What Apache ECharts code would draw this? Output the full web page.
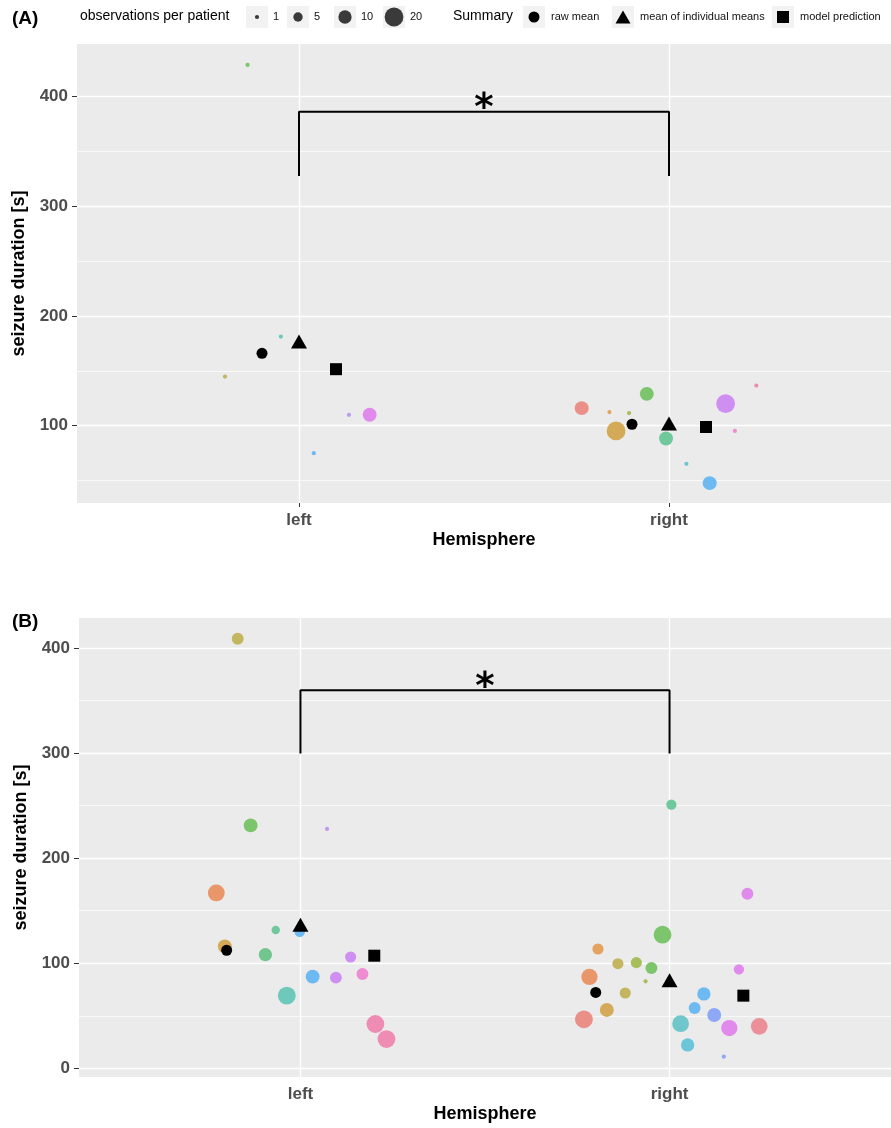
<!DOCTYPE html>
<html><head><meta charset="utf-8">
<script src="https://cdn.jsdelivr.net/npm/echarts@6/dist/echarts.min.js"></script>
<style>html,body{margin:0;padding:0;background:#fff}#c{width:891px;height:1128px}</style>
</head><body><div id="c"></div>
<script>
// ---------------- DATA ----------------
const hemispheres = ['left', 'right'];

// Panel A: one point per patient (jittered x position, mean duration, observations, patient colour key)
const aJitterX  = [0.861, 0.951, 0.800, 1.135, 1.191, 1.040,
                   1.764, 1.839, 1.892, 1.940, 1.857, 1.992, 2.153, 2.236, 2.178, 2.047, 2.110];
const aDuration = [428.9, 181.2, 144.8, 109.9, 110.0, 74.9,
                   116.0, 112.4, 111.5, 129.0, 95.2, 88.3, 120.1, 136.6, 95.2, 65.2, 47.6];
const aObs      = [1, 1, 1, 1, 11, 1,
                   11, 1, 1, 11, 20, 11, 20, 1, 1, 1, 11];
const aPatient  = ['green', 'teal', 'olive', 'lavender', 'magenta', 'blue',
                   'salmon', 'orangeL', 'olivegreen', 'green', 'gold', 'greenteal', 'violet', 'pinkred', 'pink', 'cyan', 'blue'];
const aRawMean   = [166.0, 101.3];
const aIndivMean = [176.7, 102.0];
const aModel     = [151.5, 98.8];
const aBracket   = [327.7, 386.3];
const aYTicks    = [100, 200, 300, 400];

// Panel B
const bJitterX  = [0.830, 0.865, 1.072, 0.772, 0.933, 0.998, 0.795, 0.905, 1.136, 1.033, 1.096, 1.168, 0.963, 1.203, 1.233,
                   2.005, 2.211, 1.981, 1.806, 1.860, 1.910, 1.951, 1.935, 1.783, 1.880, 1.830, 1.768, 2.188, 2.093, 2.068, 2.121, 2.030, 2.162, 2.243, 2.049, 2.147];
const bDuration = [408.8, 231.2, 227.8, 166.9, 131.7, 129.8, 116.1, 108.2, 106.0, 87.3, 86.3, 89.8, 69.2, 42.2, 27.9,
                   250.9, 166.2, 127.2, 113.6, 99.6, 100.6, 95.5, 82.8, 87.0, 71.7, 55.6, 46.7, 94.2, 70.8, 57.5, 50.8, 42.5, 38.4, 40.0, 22.3, 11.1];
const bObs      = [8, 11, 1, 16, 4, 6, 11, 10, 7, 11, 8, 8, 18, 18, 18,
                   6, 8, 18, 7, 7, 7, 8, 1, 15, 7, 11, 18, 6, 10, 8, 11, 16, 15, 16, 10, 1];
const bPatient  = ['olive', 'green', 'lavender', 'orange', 'greenteal', 'blue', 'gold', 'greenteal2', 'violet', 'blue', 'violet', 'pink', 'teal', 'pinkred', 'pinkred',
                   'greenteal', 'magenta', 'green', 'orangeL', 'olive', 'olivegreen', 'green', 'olivegreen', 'orange', 'olive', 'gold', 'salmon', 'magenta', 'blue', 'blue', 'periwinkle', 'cyanteal', 'magenta', 'salmonpink', 'cyan', 'periwinkle'];
const bRawMean   = [112.4, 72.3];
const bIndivMean = [136.7, 83.8];
const bModel     = [107.2, 69.2];
const bBracket   = [299.5, 359.7];
const bYTicks    = [0, 100, 200, 300, 400];

const sizeLegendObs = [1, 5, 10, 20];
const summaryNames  = ['raw mean', 'mean of individual means', 'model prediction'];

// ---------------- STYLE ----------------
const palette = {
  salmon: '#EA9089', salmonpink: '#EB8F98', orange: '#E8966A', orangeL: '#E3A25E', gold: '#D4A957',
  olive: '#C3B65E', olivegreen: '#A8BD5B', green: '#7DC56D', greenteal: '#6FC99B', greenteal2: '#72C58E',
  teal: '#6EC9BA', cyanteal: '#6FC7CC', cyan: '#6CC5D9', blue: '#6DB9F1', periwinkle: '#8EA8F6',
  lavender: '#BE99F4', violet: '#CF8EF1', magenta: '#E08BEC', pink: '#EE8BD3', pinkred: '#EE8CB3'
};
const FONT = '"Liberation Sans", Arial, Helvetica, sans-serif';
const sizeOf = n => 4.2 * Math.sqrt(n);

const chart = echarts.init(document.getElementById('c'), null, {renderer: 'canvas'});

const panels = [
  {x: aJitterX, y: aDuration, n: aObs, p: aPatient, raw: aRawMean, ind: aIndivMean, mod: aModel, br: aBracket, ticks: aYTicks,
   min: 29.5, max: 448, grid: {left: 77, top: 44, width: 816, height: 459}, dodge: 0.1},
  {x: bJitterX, y: bDuration, n: bObs, p: bPatient, raw: bRawMean, ind: bIndivMean, mod: bModel, br: bBracket, ticks: bYTicks,
   min: -8.2, max: 428.5, grid: {left: 79, top: 618, width: 814, height: 459}, dodge: 0.2}
];

const grids = [], xAxes = [], yAxes = [], series = [];
panels.forEach((P, i) => {
  grids.push(Object.assign({show: true, backgroundColor: '#EBEBEB', borderWidth: 0, containLabel: false}, P.grid));
  xAxes.push({
    type: 'value', gridIndex: i, min: 0.4, max: 2.6,
    axisLine: {show: false}, splitLine: {show: false},
    axisTick: {show: true, customValues: [1, 2], length: 4, lineStyle: {color: '#333', width: 1}},
    axisLabel: {customValues: [1, 2], formatter: v => hemispheres[Math.round(v) - 1], margin: 9,
                fontSize: 17, fontWeight: 'bold', color: '#4D4D4D', fontFamily: FONT},
    name: 'Hemisphere', nameLocation: 'middle', nameGap: 28,
    nameTextStyle: {fontSize: 18, fontWeight: 'bold', color: '#000', fontFamily: FONT}
  });
  yAxes.push({
    type: 'value', gridIndex: i, min: P.min, max: P.max,
    axisLine: {show: false}, splitLine: {show: false},
    axisTick: {show: true, customValues: P.ticks, length: 5, lineStyle: {color: '#333', width: 1}},
    axisLabel: {customValues: P.ticks, margin: 9, fontSize: 17, fontWeight: 'bold', color: '#4D4D4D', fontFamily: FONT},
    name: 'seizure duration [s]', nameLocation: 'middle', nameGap: 49, nameRotate: 90,
    nameTextStyle: {fontSize: 18, fontWeight: 'bold', color: '#000', fontFamily: FONT}
  });

  // grid lines
  const minor = [];
  P.ticks.forEach(t => { if (t - 50 >= P.min) minor.push(t - 50); });
  const last = P.ticks[P.ticks.length - 1];
  if (last + 50 <= P.max) minor.push(last + 50);
  const ml = [];
  minor.forEach(v => ml.push({yAxis: v, lineStyle: {color: '#fff', width: 0.7, type: 'solid', opacity: 1}}));
  P.ticks.forEach(v => ml.push({yAxis: v, lineStyle: {color: '#fff', width: 1.4, type: 'solid', opacity: 1}}));
  [1, 2].forEach(v => ml.push({xAxis: v, lineStyle: {color: '#fff', width: 1.4, type: 'solid', opacity: 1}}));
  series.push({
    type: 'scatter', xAxisIndex: i, yAxisIndex: i, data: [], silent: true, z: 1,
    markLine: {z: 1, silent: true, symbol: ['none', 'none'], label: {show: false}, emphasis: {disabled: true}, animation: false, data: ml}
  });

  // patient points
  series.push({
    type: 'scatter', xAxisIndex: i, yAxisIndex: i, z: 2, silent: true,
    data: P.x.map((xv, k) => ({value: [xv, P.y[k]], symbolSize: sizeOf(P.n[k]), itemStyle: {color: palette[P.p[k]], opacity: 1}})),
    symbol: 'circle'
  });

  // summaries
  series.push({type: 'scatter', xAxisIndex: i, yAxisIndex: i, z: 3, silent: true, symbol: 'circle', symbolSize: 11,
    itemStyle: {color: '#000', opacity: 1}, data: P.raw.map((v, k) => [k + 1 - P.dodge, v])});
  series.push({type: 'scatter', xAxisIndex: i, yAxisIndex: i, z: 3, silent: true, symbol: 'triangle', symbolSize: [16, 14],
    itemStyle: {color: '#000', opacity: 1}, data: P.ind.map((v, k) => [k + 1, v])});
  series.push({type: 'scatter', xAxisIndex: i, yAxisIndex: i, z: 3, silent: true, symbol: 'rect', symbolSize: 12,
    itemStyle: {color: '#000', opacity: 1}, data: P.mod.map((v, k) => [k + 1 + P.dodge, v])});

  // significance bracket
  series.push({type: 'line', xAxisIndex: i, yAxisIndex: i, z: 4, silent: true, symbol: 'none',
    lineStyle: {color: '#000', width: 2}, data: [[1, P.br[0]], [1, P.br[1]], [2, P.br[1]], [2, P.br[0]]]});
  series.push({type: 'scatter', xAxisIndex: i, yAxisIndex: i, z: 5, silent: true, symbolSize: 1,
    itemStyle: {color: 'rgba(0,0,0,0)', opacity: 1}, data: [[1.5, P.br[1]]],
    label: {show: true, formatter: '*', position: 'inside', offset: [0, -2], fontSize: 37, fontWeight: 'bold',
            color: '#000', fontFamily: '"DejaVu Sans", sans-serif'}});
});

// legend (drawn as graphics)
const g = [];
const cy = 17;
g.push({type: 'text', left: 12, top: 9, style: {text: '(A)', font: 'bold 19px ' + FONT, fill: '#000'}});
g.push({type: 'text', left: 12, top: 612, style: {text: '(B)', font: 'bold 19px ' + FONT, fill: '#000'}});
g.push({type: 'text', left: 80, top: cy - 8, style: {text: 'observations per patient', font: '14px ' + FONT, fill: '#000'}});
const sizeKeyX = [257, 298, 345, 394];
sizeLegendObs.forEach((n, k) => {
  g.push({type: 'rect', shape: {x: sizeKeyX[k] - 11, y: cy - 11, width: 22, height: 22}, style: {fill: '#F2F2F2'}});
  g.push({type: 'circle', shape: {cx: sizeKeyX[k], cy: cy, r: sizeOf(n) / 2}, style: {fill: '#3A3A3A'}});
  g.push({type: 'text', x: sizeKeyX[k] + 16, y: cy, style: {text: String(n), font: '11px ' + FONT, fill: '#111', textVerticalAlign: 'middle'}});
});
g.push({type: 'text', left: 453, top: cy - 8, style: {text: 'Summary', font: '14px ' + FONT, fill: '#000'}});
const sumKeyX = [534, 623, 783];
sumKeyX.forEach((x, k) => {
  g.push({type: 'rect', shape: {x: x - 11, y: cy - 11, width: 22, height: 22}, style: {fill: '#F2F2F2'}});
  if (k === 0) g.push({type: 'circle', shape: {cx: x, cy: cy, r: 5.5}, style: {fill: '#000'}});
  if (k === 1) g.push({type: 'polygon', shape: {points: [[x - 7.5, cy + 6.5], [x + 7.5, cy + 6.5], [x, cy - 6.5]]}, style: {fill: '#000'}});
  if (k === 2) g.push({type: 'rect', shape: {x: x - 6, y: cy - 6, width: 12, height: 12}, style: {fill: '#000'}});
  g.push({type: 'text', x: x + 17, y: cy, style: {text: summaryNames[k], font: '11px ' + FONT, fill: '#111', textVerticalAlign: 'middle'}});
});

chart.setOption({
  animation: false,
  backgroundColor: '#fff',
  grid: grids, xAxis: xAxes, yAxis: yAxes, series: series,
  graphic: g
});
</script></body></html>
